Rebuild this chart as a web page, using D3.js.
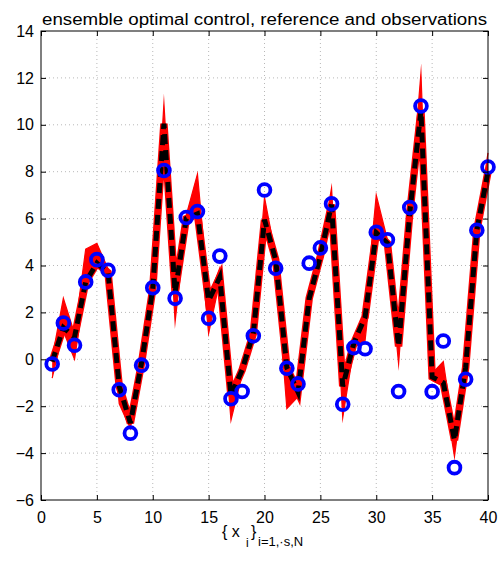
<!DOCTYPE html>
<html>
<head>
<meta charset="utf-8">
<script src="https://cdn.jsdelivr.net/npm/d3@7"></script>
<style>
  html, body { margin: 0; padding: 0; background: #fff; }
  svg { display: block; }
  text { font-family: "Liberation Sans", Arial, Helvetica, sans-serif; fill: #000; }
</style>
</head>
<body>
<script>
// ---- data ----
const xIndex = d3.range(1, 41);
const observations = [-0.2, 1.55, 0.6, 3.3, 4.25, 3.8, -1.3, -3.15, -0.25, 3.05,
  8.05, 2.6, 6.05, 6.3, 1.75, 4.4, -1.68, -1.37, 1.0, 7.22,
  3.88, -0.38, -1.05, 4.1, 4.75, 6.63, -1.92, 0.5, 0.45, 5.42,
  5.1, -1.37, 6.47, 10.8, -1.38, 0.78, -4.62, -0.85, 5.5, 8.2];
const reference = [-0.1, 1.35, 0.95, 3.3, 4.1, 3.7, -1.15, -2.72, -0.15, 3.0,
  10.05, 2.85, 6.0, 6.2, 2.5, 3.5, -1.55, -0.45, 1.1, 5.95,
  4.25, -0.35, -1.4, 2.6, 4.4, 6.6, -1.15, 0.7, 1.8, 5.4,
  4.95, 0.55, 6.25, 10.6, -0.75, -1.0, -3.45, -0.35, 5.5, 8.0];
const ensembleLow = [-0.8, 1.2, 0.0, 3.15, 4.0, 3.55, -1.9, -2.95, -0.3, 2.85,
  9.9, 1.6, 5.85, 6.05, 1.1, 3.35, -2.6, -0.65, 0.95, 5.8,
  4.05, -2.1, -1.6, 2.4, 4.2, 6.45, -2.5, 0.5, 0.8, 5.25,
  4.8, -0.2, 6.1, 10.45, -0.9, -1.15, -4.15, -0.5, 5.35, 7.85];
const ensembleHigh = [0.05, 2.6, 1.1, 4.7, 4.95, 3.85, -1.0, -2.55, 0.0, 3.15,
  10.9, 3.0, 6.15, 7.9, 2.65, 3.9, -1.4, -0.3, 1.25, 6.9,
  4.4, -0.2, -1.25, 2.75, 4.55, 7.3, -1.0, 0.85, 1.95, 7.0,
  5.1, 0.7, 6.4, 12.2, -0.6, -0.1, -3.3, -0.2, 5.65, 8.8];
const xTicks = [0, 5, 10, 15, 20, 25, 30, 35, 40];
const yTicks = [-6, -4, -2, 0, 2, 4, 6, 8, 10, 12, 14];
const titleText = "ensemble optimal control, reference and observations";

// ---- layout ----
const W = 501, H = 563;
const L = 41, R = 488, T = 31, B = 500;

const svg = d3.select("body").append("svg").attr("width", W).attr("height", H);
const x = d3.scaleLinear().domain([0, 40]).range([L, R]);
const y = d3.scaleLinear().domain([-6, 14]).range([B, T]);

// grid (dotted)
const grid = svg.append("g").attr("stroke", "#b8b8b8").attr("stroke-width", 1).attr("stroke-dasharray", "1,3");
xTicks.slice(1, -1).forEach(t => grid.append("line").attr("x1", x(t)).attr("x2", x(t)).attr("y1", T).attr("y2", B));
yTicks.slice(1, -1).forEach(t => grid.append("line").attr("x1", L).attr("x2", R).attr("y1", y(t)).attr("y2", y(t)));

// ensemble: spread band + thin envelopes + thick red core
const ens = xIndex.map((d, i) => ({ x: d, lo: ensembleLow[i], hi: ensembleHigh[i], r: reference[i] }));
const lineOf = key => d3.line().x(d => x(d.x)).y(d => y(d[key]));
svg.append("path").datum(ens)
  .attr("d", d3.area().x(d => x(d.x)).y0(d => y(d.lo)).y1(d => y(d.hi)))
  .attr("fill", "#ff0000").attr("stroke", "none");
["lo", "hi"].forEach(k => {
  svg.append("path").datum(ens).attr("d", lineOf(k))
    .attr("fill", "none").attr("stroke", "#ff0000").attr("stroke-width", 1.2)
    .attr("stroke-linejoin", "miter").attr("stroke-miterlimit", 20);
});
svg.append("path").datum(ens).attr("d", lineOf("r"))
  .attr("fill", "none").attr("stroke", "#ff0000").attr("stroke-width", 7.5).attr("stroke-linejoin", "miter");

// reference (black dashed)
svg.append("path").datum(ens).attr("d", lineOf("r"))
  .attr("fill", "none").attr("stroke", "#000").attr("stroke-width", 5)
  .attr("stroke-dasharray", "10,6");

// observations
svg.append("g").selectAll("circle").data(xIndex.map((d, i) => ({ x: d, v: observations[i] })))
  .join("circle")
  .attr("cx", d => x(d.x)).attr("cy", d => y(d.v)).attr("r", 5.9)
  .attr("fill", "none").attr("stroke", "#0000ff").attr("stroke-width", 3.8);

// frame
svg.append("rect").attr("x", L).attr("y", T).attr("width", R - L).attr("height", B - T)
  .attr("fill", "none").attr("stroke", "#000").attr("stroke-width", 1);

// axes with inward ticks (all four sides)
const tk = 5;
const xb = svg.append("g").attr("transform", `translate(0,${B})`)
  .call(d3.axisBottom(x).tickValues(xTicks).tickSize(-tk).tickPadding(12));
const xt = svg.append("g").attr("transform", `translate(0,${T})`)
  .call(d3.axisTop(x).tickValues(xTicks).tickSize(-tk).tickFormat(""));
const yl = svg.append("g").attr("transform", `translate(${L},0)`)
  .call(d3.axisLeft(y).tickValues(yTicks).tickSize(-tk).tickPadding(7).tickFormat(d3.format("d")));
const yr = svg.append("g").attr("transform", `translate(${R},0)`)
  .call(d3.axisRight(y).tickValues(yTicks).tickSize(-tk).tickFormat(""));
[xb, xt, yl, yr].forEach(g => {
  g.select(".domain").remove();
  g.selectAll("line").attr("stroke", "#000");
  g.selectAll("text").style("font-family", '"Liberation Sans", Arial, sans-serif')
    .style("font-size", "16px").attr("fill", "#000");
});
yl.selectAll("text").text(d => d < 0 ? "\u2212" + Math.abs(d) : d);

// title
svg.append("text").attr("x", 42).attr("y", 25)
  .attr("textLength", 445).attr("lengthAdjust", "spacingAndGlyphs")
  .style("font-size", "16px").text(titleText);

// x label: { x_i }_{i=1,·s,N}
const xl = svg.append("g");
xl.append("text").attr("x", 222).attr("y", 537).style("font-size", "16px").text("{ x");
xl.append("text").attr("x", 246).attr("y", 547).style("font-size", "12px").text("i");
xl.append("text").attr("x", 251).attr("y", 537).style("font-size", "16px").text("}");
xl.append("text").attr("x", 258).attr("y", 546).style("font-size", "13px").text("i=1,\u00b7s,N");
</script>
</body>
</html>
